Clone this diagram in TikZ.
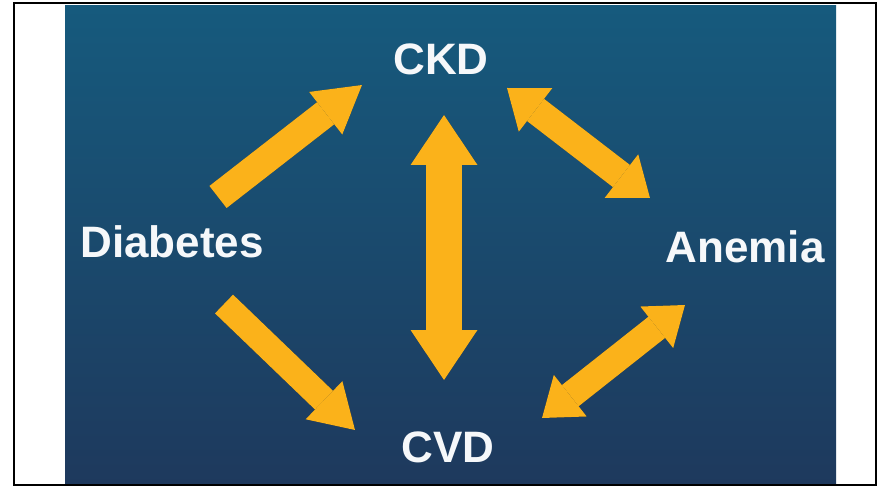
\documentclass[tikz,border=0pt]{standalone}
\usepackage{fontspec}
\setmainfont{Liberation Sans}
\usetikzlibrary{arrows.meta}
\definecolor{bgtop}{RGB}{22,90,125}
\definecolor{bgbot}{RGB}{30,57,93}
\definecolor{arrowyellow}{RGB}{251,178,26}
\definecolor{txtwhite}{RGB}{246,248,250}
\begin{document}
\begin{tikzpicture}[x=1pt,y=-1pt,
  lbl/.style={text=txtwhite, font=\fontsize{44}{52}\selectfont\bfseries, inner sep=0pt, anchor=base},
  onearrow/.style n args={3}{line width=#1, -{Triangle[length=#2,width=#3,line width=0pt]}},
  twoarrow/.style n args={3}{line width=#1, {Triangle[length=#2,width=#3,line width=0pt]}-{Triangle[length=#2,width=#3,line width=0pt]}},
  yel/.style={draw=arrowyellow, color=arrowyellow},
  shd/.style={draw=black, color=black, opacity=0.35}
]
\useasboundingbox (0,0) rectangle (880,486);
\fill[white] (0,0) rectangle (880,486);
\shade[top color=bgtop, bottom color=bgbot] (65,6) rectangle (836,486);
\draw[black, line width=2.5pt] (14,3) rectangle (876,485);

% labels
\node[lbl] (ckd) at (441,75) {CKD};
\node[lbl] (diab) at (172,258) {Diabetes};
\node[lbl] (anem) at (745,262) {Anemia};
\node[lbl] (cvd) at (448,462) {CVD};

% arrow end points
\coordinate (a1s) at (218,197); \coordinate (a1e) at (362,85);
\coordinate (a2s) at (224,304); \coordinate (a2e) at (355,430);
\coordinate (a3s) at (444,115); \coordinate (a3e) at (444,380);
\coordinate (a4s) at (507,88);  \coordinate (a4e) at (650,198);
\coordinate (a5s) at (685,305); \coordinate (a5e) at (542,418);

% shadows
\begin{scope}[xshift=1.5pt, yshift=-1.5pt]
\draw[shd, onearrow={28pt}{46pt}{54pt}] (a1s) -- (a1e);
\draw[shd, onearrow={26pt}{43pt}{53pt}] (a2s) -- (a2e);
\draw[shd, twoarrow={36pt}{50pt}{67pt}] (a3s) -- (a3e);
\draw[shd, twoarrow={28pt}{36pt}{55pt}] (a4s) -- (a4e);
\draw[shd, twoarrow={27pt}{36pt}{53pt}] (a5s) -- (a5e);
\end{scope}

% arrows
\draw[yel, onearrow={28pt}{46pt}{54pt}] (a1s) -- (a1e);
\draw[yel, onearrow={26pt}{43pt}{53pt}] (a2s) -- (a2e);
\draw[yel, twoarrow={36pt}{50pt}{67pt}] (a3s) -- (a3e);
\draw[yel, twoarrow={28pt}{36pt}{55pt}] (a4s) -- (a4e);
\draw[yel, twoarrow={27pt}{36pt}{53pt}] (a5s) -- (a5e);
\end{tikzpicture}
\end{document}
